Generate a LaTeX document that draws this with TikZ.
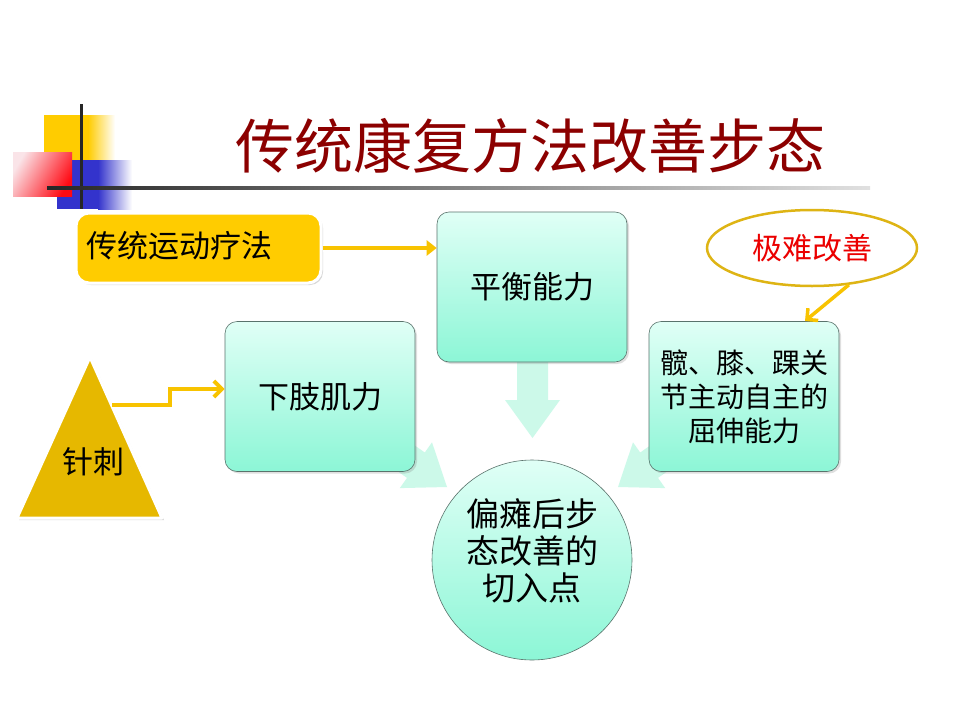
\documentclass[tikz,border=0pt]{standalone}
\usepackage{fontspec}
\setmainfont{Liberation Sans}
\newfontfamily\cjk{Noto Sans CJK SC}
\usetikzlibrary{shapes.geometric,arrows.meta,shadows}
\definecolor{titlered}{RGB}{140,0,0}
\definecolor{decoyellow}{RGB}{255,204,0}
\definecolor{decoblue}{RGB}{51,51,204}
\definecolor{boxyellow}{RGB}{255,204,0}
\definecolor{trigold}{RGB}{230,184,0}
\definecolor{arrowyellow}{RGB}{248,195,0}
\definecolor{ellgold}{RGB}{222,180,20}
\definecolor{minttop}{RGB}{224,255,246}
\definecolor{mintbot}{RGB}{140,246,214}
\definecolor{mintborder}{RGB}{90,115,108}
\definecolor{blockmint}{RGB}{196,248,230}
\definecolor{hardred}{RGB}{235,0,0}
\definecolor{redpale}{RGB}{250,228,232}
\definecolor{redfull}{RGB}{255,10,20}
\tikzset{
  mintbox/.style={rectangle, rounded corners=12pt, draw=mintborder, line width=0.6pt,
    top color=minttop, bottom color=mintbot, minimum width=190pt, minimum height=150pt,
    align=center, font=\cjk\fontsize{31}{34}\selectfont,
    drop shadow={opacity=0.25, shadow xshift=2pt, shadow yshift=-2pt}},
  blockarrow/.style={fill=blockmint, fill opacity=0.85, draw=none},
  yline/.style={draw=arrowyellow, line width=4pt},
  youtline/.style={draw=white, line width=7pt},
}
\begin{document}
\begin{tikzpicture}[x=1pt,y=-1pt]
\useasboundingbox (0,0) rectangle (960,720);
\fill[white] (0,0) rectangle (960,720);
% decoration
\fill[decoyellow] (44,115) rectangle (88,160);
\shade[left color=decoyellow, right color=white] (88,115) rectangle (115,160);
\fill[decoblue] (57,160) rectangle (98,209);
\shade[left color=decoblue, right color=white] (98,160) rectangle (132,209);
\shade[left color=redpale, right color=redfull, shading angle=60] (13,152) rectangle (72,196);
\fill[black!85] (79.8,104) rectangle (82.6,209);
\shade[left color=black!85, right color=black!12] (47,186.6) rectangle (870,189.6);
% title
\node[font=\cjk\fontsize{59}{61}\selectfont, text=titlered] (title) at (530,146) {传统康复方法改善步态};
% block arrows (under boxes)
\path[blockarrow] (517,355) -- (548,355) -- (548,400) -- (560,400) -- (532.5,438) -- (505,400) -- (517,400) -- cycle;
\path[blockarrow] (366.1,449.2) -- (407.0,477.9) -- (399.8,488.1) -- (447,487) -- (432.0,442.3) -- (424.8,452.5) -- (383.9,423.8) -- cycle;
\path[blockarrow] (698.9,449.2) -- (658.0,477.9) -- (665.2,488.1) -- (618,487) -- (633.0,442.3) -- (640.2,452.5) -- (681.1,423.8) -- cycle;
% boxes
\node[mintbox] (ph) at (532,287) {平衡能力};
\node[mintbox] (xz) at (320,396.5) {下肢肌力};
\node[mintbox, font=\cjk\fontsize{28}{34}\selectfont] (hx) at (744,396.5) {髋、膝、踝关\\节主动自主的\\屈伸能力};
\node[circle, draw=mintborder, line width=0.6pt, top color=minttop, bottom color=mintbot,
      minimum size=200pt] (pt) at (532,560) {};
\node[align=center, font=\cjk\fontsize{33}{37}\selectfont] (ptt) at (532,551) {偏瘫后步\\态改善的\\切入点};
% yellow box
\node[rectangle, rounded corners=13pt, draw=white, line width=3pt, fill=boxyellow,
      minimum width=245pt, minimum height=70pt, text width=225pt, align=left,
      font=\cjk\fontsize{31}{34}\selectfont,
      drop shadow={opacity=0.3, shadow xshift=2pt, shadow yshift=-2pt}] (ct) at (198.5,248) {\raisebox{8pt}{传统运动疗法}};
% triangle
\draw[white, line width=3pt, fill=trigold, line join=round,
      drop shadow={opacity=0.3, shadow xshift=2pt, shadow yshift=-2pt}] (90,357) -- (162,518) -- (17,518) -- cycle;
\node[font=\cjk\fontsize{31}{34}\selectfont] (zc) at (93,462) {针刺};
\coordinate (trir) at (112,405);
\coordinate (za) at (170,405);
\coordinate (zb) at (170,389);
% ellipse
\node[ellipse, draw=ellgold, line width=2.5pt, fill=white, minimum width=210pt, minimum height=76pt,
      font=\cjk\fontsize{30}{34}\selectfont, text=hardred] (jn) at (812,248) {极难改善};
\coordinate (ht) at (805,321);
% connectors
\draw[youtline] (ct.east) -- ([xshift=-4pt]ph.west |- ct.east);
\draw[draw=arrowyellow, line width=4.5pt, -{Triangle[length=10pt,width=15pt]}] (ct.east) -- (ph.west |- ct.east);
\draw[yline, line join=miter, -{Straight Barb[length=8pt,width=16pt]}] (trir) -- (za) -- (zb) -- (zb -| xz.west);
\draw[yline, line width=3.5pt, -{Straight Barb[length=8pt,width=16pt]}] (jn.-45) -- (ht);
\end{tikzpicture}
\end{document}
